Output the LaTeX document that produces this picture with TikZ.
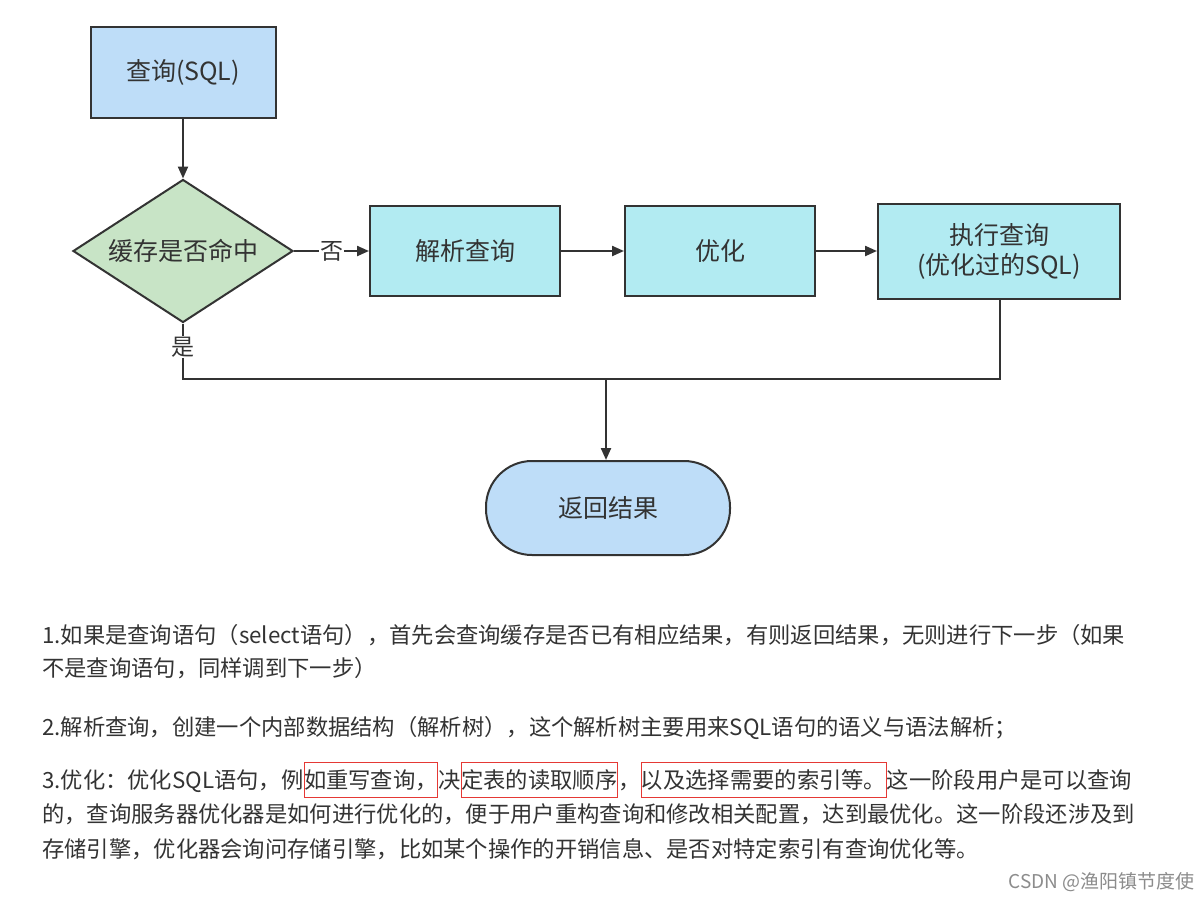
\documentclass[tikz,border=0pt]{standalone}
\usepackage{fontspec}
\setmainfont{Noto Sans CJK SC}
\usetikzlibrary{shapes.geometric,arrows.meta}
\definecolor{bl}{HTML}{BEDDF8}
\definecolor{gr}{HTML}{C8E4C6}
\definecolor{cy}{HTML}{B2EBF2}
\definecolor{ln}{HTML}{333333}
\definecolor{tx}{HTML}{333333}
\definecolor{rd}{HTML}{E53935}
\begin{document}
\begin{tikzpicture}[x=1pt,y=-1pt,
  box/.style={draw=ln,line width=2pt,minimum width=#1,inner sep=0,font=\fontsize{25}{30}\selectfont,text=tx,align=center},
  arr/.style={draw=ln,line width=2.2pt,-{Triangle[length=12pt,width=10pt]}},
  ln/.style={draw=ln,line width=2.2pt},
  para/.style={anchor=base west,inner sep=0,font=\fontsize{22.3}{26}\selectfont,text=tx},
  seg/.style={anchor=base west,inner xsep=0,inner ysep=0,font=\fontsize{22.3}{26}\selectfont,text=tx},
  rbox/.style={seg,draw=rd,line width=0.8pt,inner ysep=7pt}]
\useasboundingbox[fill=white] (0,0) rectangle (1201,900);
\node[box=185pt,minimum height=91pt,fill=bl] (q) at (183,72.5) {查询(SQL)};
\node[diamond,draw=ln,line width=2pt,fill=gr,minimum width=220pt,minimum height=143pt,inner sep=0,aspect=1.54,font=\fontsize{25}{30}\selectfont,text=tx] (d) at (183,251) {缓存是否命中};
\node[box=190pt,minimum height=90pt,fill=cy] (p) at (465,251) {解析查询};
\node[box=190pt,minimum height=90pt,fill=cy] (o) at (720,251) {优化};
\node[box=242pt,minimum height=95pt,fill=cy] (e) at (999,251) {执行查询\\(优化过的SQL)};
\node[box=244pt,minimum height=94pt,fill=bl,rounded corners=46pt] (r) at (608,508) {返回结果};
\draw[arr] (q.south) -- (d.north);
\draw[arr] (d.east) -- node[fill=white,inner sep=1pt,font=\fontsize{23}{26}\selectfont,text=tx]{否} (p.west);
\draw[arr] (p.east) -- (o.west);
\draw[arr] (o.east) -- (e.west);
\coordinate (c1) at (183,379);
\coordinate (c2) at (1000,379);
\coordinate (c3) at (606,379);
\draw[ln] (d.south) -- (c1) -- (c2) -- (e.south -| c2);
\node[fill=white,inner sep=1pt,font=\fontsize{23}{26}\selectfont,text=tx] (yes) at (183,347) {是};
\draw[arr] (c3) -- (r.north -| c3);
\node[para] (t1) at (42,643) {1.如果是查询语句（select语句），首先会查询缓存是否已有相应结果，有则返回结果，无则进行下一步（如果};
\node[para] (t2) at (42,676) {不是查询语句，同样调到下一步）};
\node[para] (t3) at (42,735) {2.解析查询，创建一个内部数据结构（解析树），这个解析树主要用来SQL语句的语义与语法解析；};
\node[seg] (s1) at (42,788) {3.优化：优化SQL语句，例};
\node[rbox] (s2) at (s1.base east) {如重写查询，};
\node[seg] (s3) at (s2.base east) {决};
\node[rbox] (s4) at (s3.base east) {定表的读取顺序};
\node[seg] (s5) at (s4.base east) {，};
\node[rbox] (s6) at (s5.base east) {以及选择需要的索引等。};
\node[seg] (s7) at (s6.base east) {这一阶段用户是可以查询};
\node[para] (t5) at (42,822) {的，查询服务器优化器是如何进行优化的，便于用户重构查询和修改相关配置，达到最优化。这一阶段还涉及到};
\node[para] (t6) at (42,857) {存储引擎，优化器会询问存储引擎，比如某个操作的开销信息、是否对特定索引有查询优化等。};
\node[anchor=base east,inner sep=0,font=\fontsize{19}{22}\selectfont,text=black!45] (wm) at (1195,888) {CSDN @渔阳镇节度使};
\end{tikzpicture}
\end{document}
